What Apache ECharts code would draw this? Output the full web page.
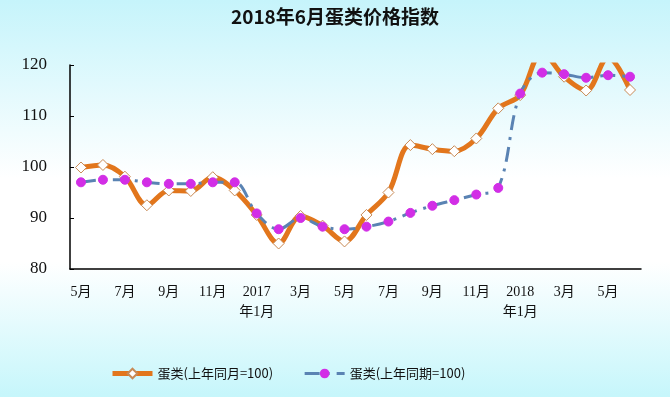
<!DOCTYPE html>
<html>
<head>
<meta charset="utf-8">
<script src="https://cdn.jsdelivr.net/npm/echarts@6/dist/echarts.min.js"></script>
<style>
html, body { margin: 0; padding: 0; }
#chart { width: 670px; height: 397px; }
</style>
</head>
<body>
<div id="chart"></div>
<script>
// 月份: 2016年5月 ~ 2018年6月
var months = ['5月', '6月', '7月', '8月', '9月', '10月', '11月', '12月',
  '2017\n年1月', '2月', '3月', '4月', '5月', '6月', '7月', '8月', '9月', '10月', '11月', '12月',
  '2018\n年1月', '2月', '3月', '4月', '5月', '6月'];

// 蛋类(上年同月=100)
var sameMonth = [99.9, 100.4, 98.1, 92.5, 95.4, 95.3, 98.0, 95.4, 90.6, 85.0, 90.4, 88.5, 85.4,
  90.6, 95.0, 104.3, 103.5, 103.1, 105.6, 111.5, 114.1, 122.5, 117.7, 115.0, 121.5, 115.1];

// 蛋类(上年同期=100)
var samePeriod = [97.0, 97.5, 97.5, 97.0, 96.7, 96.7, 97.0, 97.0, 90.9, 87.8, 90.0, 88.3, 87.8,
  88.3, 89.3, 91.0, 92.4, 93.5, 94.6, 95.9, 114.4, 118.5, 118.2, 117.5, 118.0, 117.7];

var yTicks = {min: 80, max: 120, interval: 10};

var chart = echarts.init(document.getElementById('chart'));

var option = {
  backgroundColor: new echarts.graphic.LinearGradient(0, 0, 0, 1, [
    {offset: 0, color: '#c6f4fb'},
    {offset: 0.45, color: '#ffffff'},
    {offset: 0.66, color: '#ffffff'},
    {offset: 1, color: '#c6f6fb'}
  ]),
  title: {
    text: '2018年6月蛋类价格指数',
    left: 'center',
    top: 2,
    textStyle: {fontFamily: 'Noto Sans CJK SC', fontSize: 19, fontWeight: 'bold', color: '#111'}
  },
  legend: {
    bottom: 12,
    left: 105,
    itemWidth: 40,
    itemHeight: 12,
    itemGap: 30,
    lineStyle: {width: 'inherit'},
    textStyle: {fontFamily: 'Noto Sans CJK SC', fontSize: 13, color: '#111'},
    data: ['蛋类(上年同月=100)', '蛋类(上年同期=100)']
  },
  grid: {left: 70, right: 29, top: 65, bottom: 128},
  xAxis: {
    type: 'category',
    data: months,
    boundaryGap: true,
    axisLine: {lineStyle: {color: '#000', width: 1.5}},
    axisTick: {inside: true, interval: 0, length: 5, lineStyle: {color: '#000'}},
    axisLabel: {
      interval: 1,
      margin: 13,
      lineHeight: 20,
      fontFamily: 'Liberation Serif, Noto Sans CJK SC',
      fontSize: 14,
      color: '#111'
    }
  },
  yAxis: {
    type: 'value',
    min: yTicks.min,
    max: yTicks.max,
    interval: yTicks.interval,
    splitLine: {show: false},
    axisLine: {show: true, lineStyle: {color: '#000', width: 1.5}},
    axisTick: {show: true, inside: true, length: 4, lineStyle: {color: '#000'}},
    axisLabel: {margin: 23, fontFamily: 'Liberation Serif', fontSize: 17, color: '#111'}
  },
  series: [
    {
      name: '蛋类(上年同月=100)',
      type: 'line',
      data: sameMonth,
      smooth: 0.35,
      symbol: 'diamond',
      symbolSize: 11,
      z: 2,
      lineStyle: {color: '#e2761c', width: 5},
      itemStyle: {color: '#ffffff', borderColor: '#c88a55', borderWidth: 1}
    },
    {
      name: '蛋类(上年同期=100)',
      type: 'line',
      data: samePeriod,
      smooth: 0.35,
      symbol: 'circle',
      symbolSize: 9,
      z: 3,
      lineStyle: {color: '#5a83b3', width: 3, type: [15, 7, 3, 7]},
      itemStyle: {color: '#d22ee6', borderColor: '#d22ee6'}
    }
  ]
};

chart.setOption(option);
</script>
</body>
</html>
